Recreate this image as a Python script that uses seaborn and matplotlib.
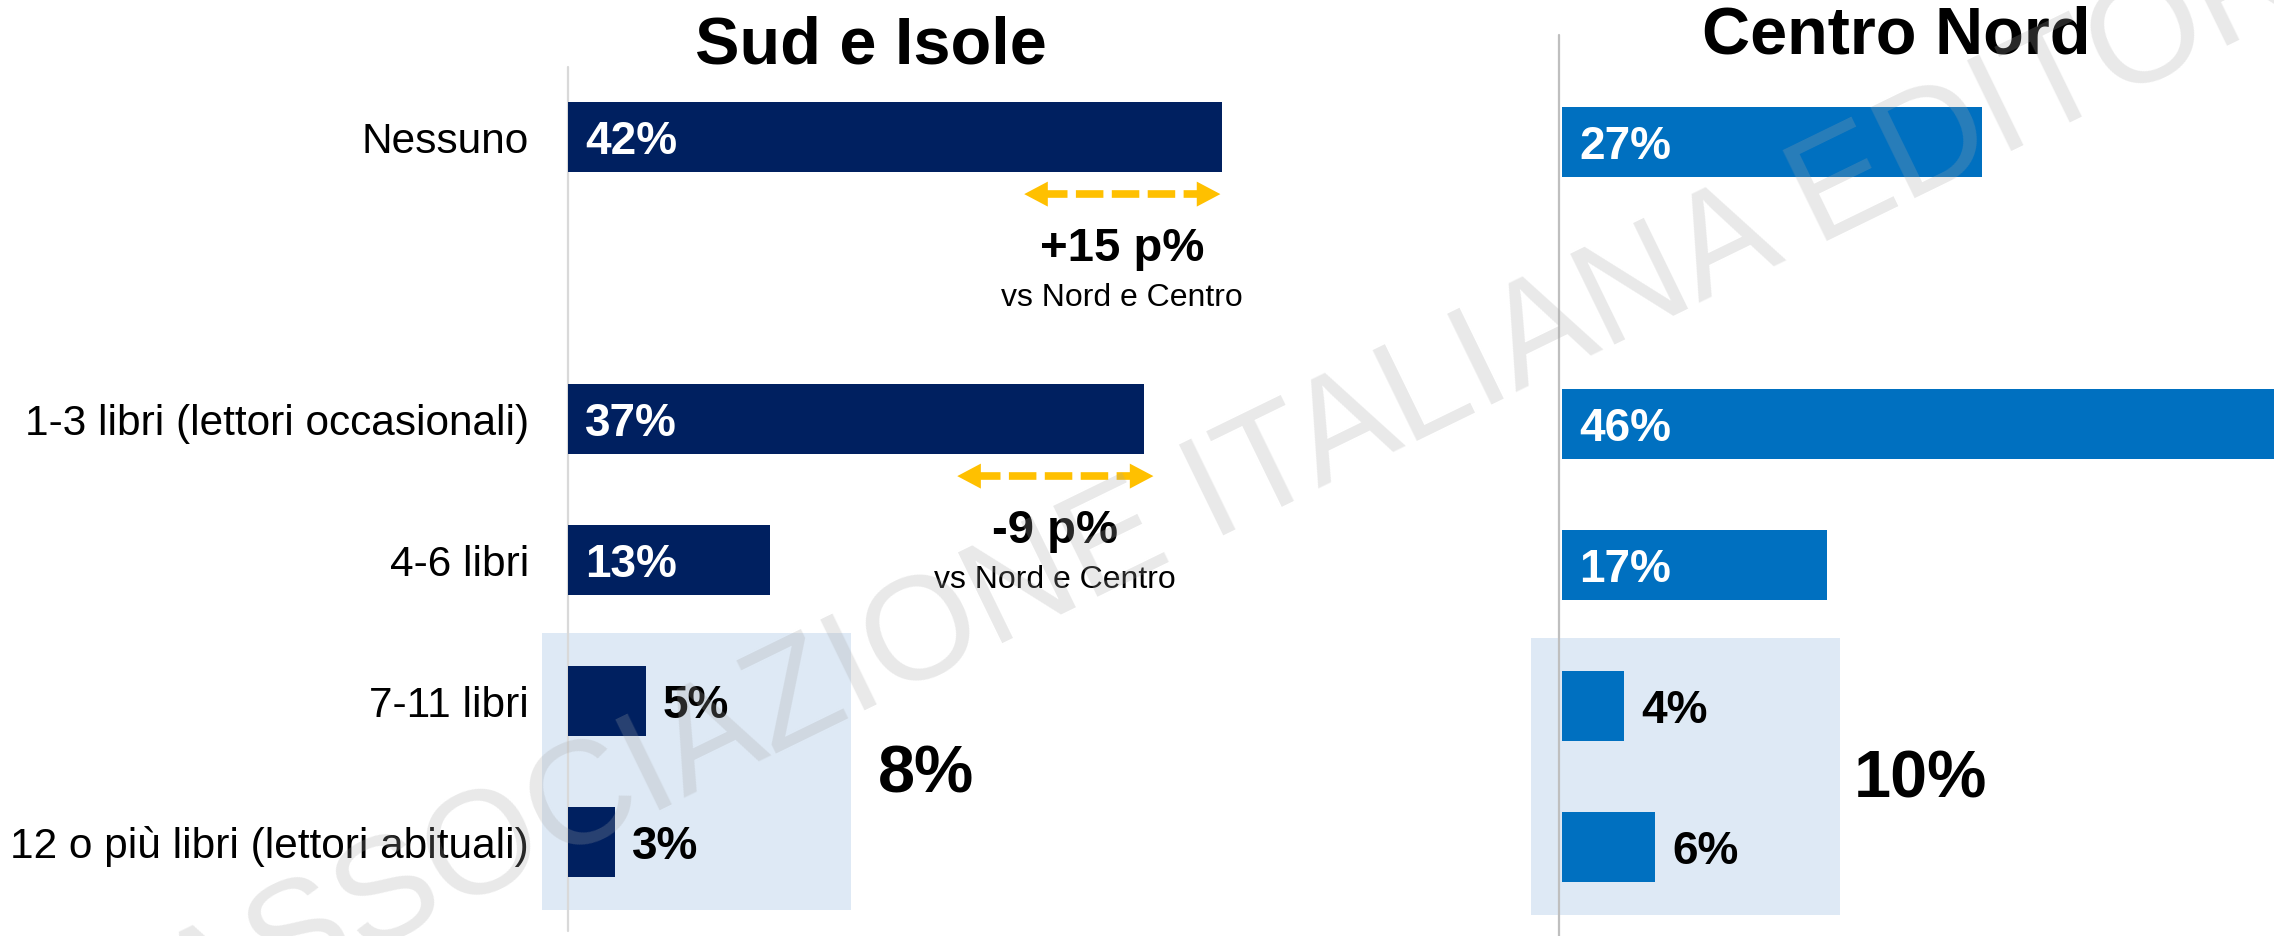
import numpy as np
import pandas as pd
import matplotlib
matplotlib.use("Agg")
import matplotlib.pyplot as plt
import seaborn as sns
from matplotlib.patches import Rectangle

# ---------------- data ----------------
categories = ["Nessuno", "1-3 libri (lettori occasionali)", "4-6 libri",
              "7-11 libri", "12 o più libri (lettori abituali)"]
sud_values = [42, 37, 13, 5, 3]
nord_values = [27, 46, 17, 4, 6]
panel_titles = ["Sud e Isole", "Centro Nord"]
diff_note = "vs Nord e Centro"
diff_categories = ["Nessuno", "1-3 libri (lettori occasionali)"]
group_categories = ["7-11 libri", "12 o più libri (lettori abituali)"]
watermark = "ASSOCIAZIONE ITALIANA EDITORI"

# ---------------- style ----------------
sns.set_theme(style="white")
plt.rcParams["font.family"] = ["Liberation Sans", "DejaVu Sans"]
plt.rcParams["text.color"] = "black"

W, H = 2274, 937
PX = 15.57          # pixels per percentage point
SLOT = 141.0        # pixels per category slot
fig = plt.figure(figsize=(W / 100, H / 100), dpi=100)
fig.patch.set_facecolor("white")

spacer = " "
order = [categories[0], spacer] + categories[1:]

DARK = "#002060"
BLUE = "#0070C0"
BOX = "#DEE9F5"
GOLD = "#FFC000"

ax_l = fig.add_axes([568 / W, (H - 913.5) / H, 50 * PX / W, 6 * SLOT / H])
ax_r = fig.add_axes([1562 / W, (H - 918.5) / H, (W - 1562) / W, 6 * SLOT / H])

panels = [(ax_l, sud_values, DARK, 50, "#d9d9d9", 0.0, (-0.022, 1.0), -1.7),
          (ax_r, nord_values, BLUE, (W - 1562) / PX, "#bfbfbf", -0.2,
           (-0.022, 1.043), -2.0)]

for ax, vals, col, xmax, lcol, lx, (ymn, ymx), bx in panels:
    df = pd.DataFrame({"category": categories, "value": vals})
    sns.barplot(data=df, x="value", y="category", order=order, color=col,
                saturation=1, width=0.5, orient="h", ax=ax)
    for p in ax.patches:
        p.set_zorder(2)
        p.set_edgecolor("none")
    ax.set_xlim(0, xmax)
    ax.set_ylim(5.5, -0.5)
    ax.set_axis_off()
    ax.axvline(lx, ymin=ymn, ymax=ymx, color=lcol, lw=1.6, zorder=1.5,
               clip_on=False)
    # value labels
    for cat, v in zip(categories, vals):
        y = order.index(cat)
        if v >= 10:
            ax.text(1.1, y + 0.115, f"{v}%", color="white", fontsize=33,
                    fontweight="bold", ha="left", va="baseline", zorder=3)
        else:
            ax.text(v + 1.1, y + 0.115, f"{v}%", color="black", fontsize=33,
                    fontweight="bold", ha="left", va="baseline", zorder=3)
    # highlight box around the grouped categories
    g0 = order.index(group_categories[0])
    g1 = order.index(group_categories[-1])
    ax.add_patch(Rectangle((bx, g0 - 0.48), 19.85, (g1 - g0) + 0.96,
                           facecolor=BOX, edgecolor="none", zorder=0.5,
                           clip_on=False))
    total = sum(v for c, v in zip(categories, vals) if c in group_categories)
    ax.text(23.0, (g0 + g1) / 2 + 0.14, f"{total}%", fontsize=48,
            fontweight="bold", ha="center", va="baseline", color="black",
            zorder=3)

# category labels (left panel)
for cat in categories:
    y = order.index(cat)
    ax_l.text(-2.5, y + 0.105, cat, fontsize=30.5, ha="right", va="baseline",
              color="black")

# difference annotations
arrow_centers = [35.6, 31.3]
HALF = 6.3
for cat, xc in zip(diff_categories, arrow_centers):
    i = categories.index(cat)
    y = order.index(cat)
    d = sud_values[i] - nord_values[i]
    ya = y + 0.405
    # solid arrowheads only (no stroke on the shaft)
    ax_l.annotate("", xy=(xc + HALF, ya), xytext=(xc - HALF, ya),
                  arrowprops=dict(arrowstyle="<|-|>,head_length=0.85,head_width=0.45",
                                  mutation_scale=20, facecolor=GOLD,
                                  edgecolor="none", lw=0,
                                  shrinkA=0, shrinkB=0), zorder=3)
    # dashed shaft
    ax_l.plot([xc - HALF + 1.0, xc + HALF - 1.0], [ya, ya], color=GOLD,
              lw=5.5, linestyle=(0, (3.6, 1.1)), solid_capstyle="butt",
              dash_capstyle="butt", zorder=3)
    ax_l.text(xc, y + 0.875, f"{d:+d} p%", fontsize=34, fontweight="bold",
              ha="center", va="baseline", color="black", zorder=3)
    ax_l.text(xc, y + 1.195, diff_note, fontsize=23, ha="center",
              va="baseline", color="black", zorder=3)

# titles
fig.text(871 / W, (H - 63) / H, panel_titles[0], fontsize=48,
         fontweight="bold", ha="center", va="baseline", color="black")
fig.text(1896 / W, (H - 53) / H, panel_titles[1], fontsize=48,
         fontweight="bold", ha="center", va="baseline", color="black")

# watermark
fig.text(1267 / W, (H - 514) / H, watermark, fontsize=105.6, color="#a6a6a6",
         alpha=0.25, rotation=26, rotation_mode="anchor", ha="center",
         va="baseline", zorder=10)

fig.savefig("out.png", dpi=100, facecolor="white")
